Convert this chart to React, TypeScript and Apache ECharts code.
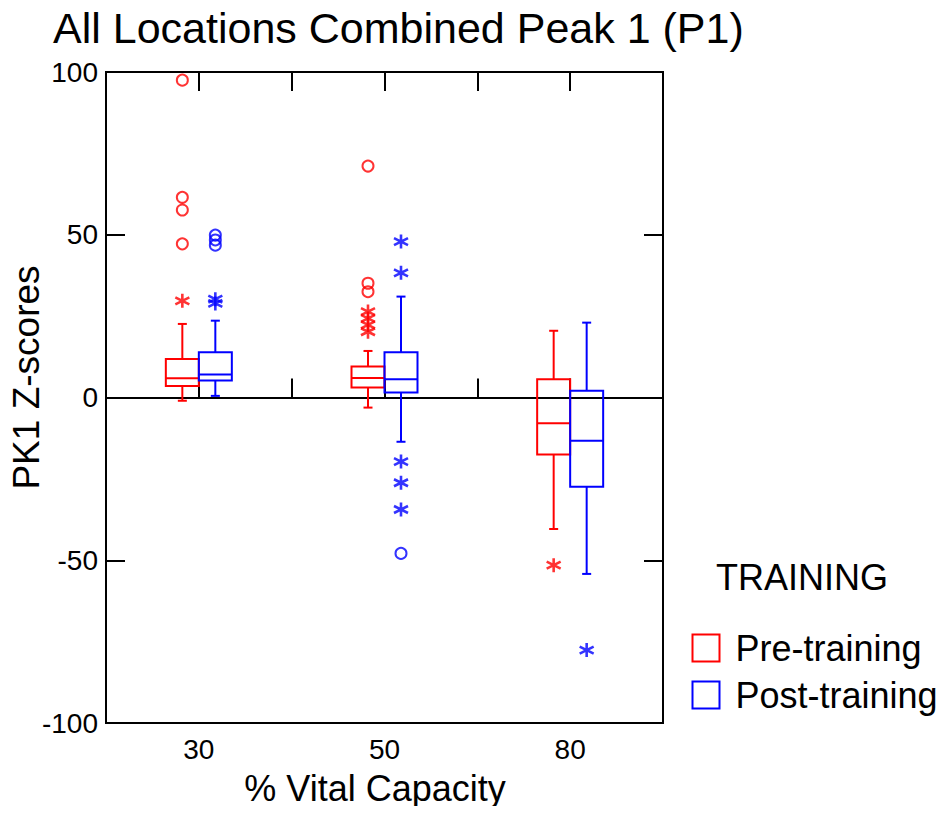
import React, { useEffect, useRef } from "react";
import * as echarts from "echarts";

const FONT = "'Liberation Sans', Arial, Helvetica, sans-serif";

const categories = ["30", "50", "80"];
const yTicks = [-100, -50, 0, 50, 100];

// [lower whisker, Q1, median, Q3, upper whisker]
const preBoxes = [
  [-1.0, 3.5, 5.9, 11.8, 22.6],
  [-3.1, 3.1, 6.0, 9.5, 14.3],
  [-40.4, -17.5, -7.9, 5.6, 20.5],
];
const postBoxes = [
  [0.5, 5.2, 7.1, 13.9, 23.6],
  [-13.6, 1.5, 5.6, 13.9, 31.0],
  [-54.2, -27.4, -13.3, 2.1, 23.0],
];

// outliers: [category index, value]
const preCircles = [
  [0, 97.5], [0, 61.5], [0, 57.6], [0, 47.2],
  [1, 71.1], [1, 35.1], [1, 32.5],
];
const preStars = [
  [0, 29.7],
  [1, 26.4], [1, 24.3], [1, 22.3], [1, 20.2],
  [2, -51.5],
];
const postCircles = [
  [0, 49.9], [0, 48.4], [0, 46.8],
  [1, -47.9],
];
const postStars = [
  [0, 30.2], [0, 28.9],
  [1, 47.9], [1, 38.3], [1, -19.7], [1, -26.2], [1, -34.4],
  [2, -77.6],
];

const RED = "#ff0000";
const BLUE = "#0000ff";
const BOX_W = 33;
const OFFSET = 16.5;
const STAR = "path://M0,-10L0,10M-8.66,-5L8.66,5M-8.66,5L8.66,-5";

function boxSeries(name: string, boxes: number[][], color: string, offset: number, withZero: boolean) {
  const s: any = {
    name,
    type: "custom",
    xAxisIndex: 0,
    yAxisIndex: 0,
    data: boxes.map((b, i) => [i, ...b]),
    encode: { x: 0, y: [1, 2, 3, 4, 5] },
    itemStyle: { color },
    renderItem: (params: any, api: any) => {
      const idx = api.value(0);
      const cx = api.coord([idx, 0])[0] + offset;
      const yy = (k: number) => api.coord([idx, api.value(k)])[1];
      const lo = yy(1), q1 = yy(2), med = yy(3), q3 = yy(4), hi = yy(5);
      const h = BOX_W / 2;
      const cap = 4.5;
      const st = { stroke: color, lineWidth: 2, fill: "none" };
      return {
        type: "group",
        children: [
          { type: "rect", shape: { x: cx - h, y: q3, width: BOX_W, height: q1 - q3 }, style: st },
          { type: "line", shape: { x1: cx - h, y1: med, x2: cx + h, y2: med }, style: st },
          { type: "line", shape: { x1: cx, y1: q3, x2: cx, y2: hi }, style: st },
          { type: "line", shape: { x1: cx, y1: q1, x2: cx, y2: lo }, style: st },
          { type: "line", shape: { x1: cx - cap, y1: hi, x2: cx + cap, y2: hi }, style: st },
          { type: "line", shape: { x1: cx - cap, y1: lo, x2: cx + cap, y2: lo }, style: st },
        ],
      };
    },
    z: 3,
  };
  if (withZero) {
    s.markLine = {
      silent: true,
      symbol: ["none", "none"],
      label: { show: false },
      lineStyle: { color: "#000", width: 2, type: "solid" },
      data: [{ yAxis: 0 }],
      z: 2,
    };
  }
  return s;
}

function outlierSeries(name: string, data: number[][], color: string, offset: number, star: boolean) {
  return {
    name,
    type: "scatter",
    xAxisIndex: 0,
    yAxisIndex: 0,
    data,
    symbol: star ? STAR : "circle",
    symbolSize: star ? 14 : 11,
    symbolOffset: [offset, 0],
    itemStyle: { color: "none", borderColor: color, borderWidth: star ? 2.6 : 2 },
    z: 4,
  };
}

export default function App() {
  const ref = useRef<HTMLDivElement>(null);
  useEffect(() => {
    if (!ref.current) return;
    const chart = echarts.init(ref.current, undefined, { renderer: "svg" });
    const tickStyle = { color: "#000", width: 2 };
    const option: any = {
      animation: false,
      backgroundColor: "#fff",
      textStyle: { fontFamily: FONT, color: "#000" },
      title: [
        {
          text: "All Locations Combined Peak 1 (P1)",
          left: 53,
          top: 6,
          padding: 0,
          textStyle: { fontFamily: FONT, fontSize: 43, fontWeight: "normal", color: "#000" },
        },
        {
          text: "TRAINING",
          left: 716,
          top: 559,
          padding: 0,
          textStyle: { fontFamily: FONT, fontSize: 36, fontWeight: "normal", color: "#000" },
        },
      ],
      legend: {
        orient: "vertical",
        left: 690,
        top: 630,
        padding: 0,
        itemWidth: 27,
        itemHeight: 27,
        itemGap: 11,
        selectedMode: false,
        textStyle: { fontFamily: FONT, fontSize: 36, color: "#000", lineHeight: 27, padding: [0, 0, 0, 11] },
        data: [
          { name: "Pre-training", icon: "rect", itemStyle: { color: "none", borderColor: RED, borderWidth: 2 } },
          { name: "Post-training", icon: "rect", itemStyle: { color: "none", borderColor: BLUE, borderWidth: 2 } },
        ],
      },
      grid: {
        left: 106,
        right: 283,
        top: 72,
        bottom: 91,
        containLabel: false,
        outerBoundsMode: "none",
        show: true,
        borderColor: "#000",
        borderWidth: 2,
        backgroundColor: "transparent",
      },
      xAxis: [
        {
          type: "category",
          data: categories,
          position: "bottom",
          name: "% Vital Capacity",
          nameLocation: "middle",
          nameGap: 47,
          nameTextStyle: { fontFamily: FONT, fontSize: 36, color: "#000", padding: [0, 19, 0, 0] },
          axisLine: { show: true, lineStyle: tickStyle },
          axisTick: { show: true, inside: true, length: 19, alignWithLabel: true, lineStyle: tickStyle },
          axisLabel: { show: true, fontFamily: FONT, fontSize: 28, color: "#000", margin: 12 },
          splitLine: { show: false },
        },
        {
          type: "category",
          data: categories,
          position: "bottom",
          axisLine: { show: false },
          axisTick: { show: true, inside: true, length: 19, lineStyle: tickStyle },
          axisLabel: { show: false },
          splitLine: { show: false },
        },
        {
          type: "category",
          data: categories,
          position: "top",
          axisLine: { show: true, lineStyle: tickStyle },
          axisTick: { show: true, inside: true, length: 19, alignWithLabel: true, lineStyle: tickStyle },
          axisLabel: { show: false },
          splitLine: { show: false },
        },
        {
          type: "category",
          data: categories,
          position: "top",
          axisLine: { show: false },
          axisTick: { show: true, inside: true, length: 19, lineStyle: tickStyle },
          axisLabel: { show: false },
          splitLine: { show: false },
        },
      ],
      yAxis: [
        {
          type: "value",
          position: "left",
          min: yTicks[0],
          max: yTicks[yTicks.length - 1],
          interval: 50,
          name: "PK1 Z-scores",
          nameLocation: "middle",
          nameRotate: 90,
          nameGap: 61,
          nameMoveOverlap: false,
          nameTextStyle: { fontFamily: FONT, fontSize: 37, color: "#000", padding: [0, 0, 0, 40] },
          axisLine: { show: true, lineStyle: tickStyle },
          axisTick: { show: true, inside: true, length: 19, lineStyle: tickStyle },
          axisLabel: { show: true, fontFamily: FONT, fontSize: 28, color: "#000", margin: 8 },
          splitLine: { show: false },
        },
        {
          type: "value",
          position: "right",
          min: yTicks[0],
          max: yTicks[yTicks.length - 1],
          interval: 50,
          axisLine: { show: true, lineStyle: tickStyle },
          axisTick: { show: true, inside: true, length: 19, lineStyle: tickStyle },
          axisLabel: { show: false },
          splitLine: { show: false },
        },
      ],
      series: [
        boxSeries("Pre-training", preBoxes, RED, -OFFSET, true),
        boxSeries("Post-training", postBoxes, BLUE, OFFSET, false),
        outlierSeries("Pre-training", preCircles, RED, -OFFSET, false),
        outlierSeries("Pre-training", preStars, RED, -OFFSET, true),
        outlierSeries("Post-training", postCircles, BLUE, OFFSET, false),
        outlierSeries("Post-training", postStars, BLUE, OFFSET, true),
      ],
    };
    chart.setOption(option);
    return () => chart.dispose();
  }, []);
  return <div ref={ref} style={{ width: 946, height: 814, margin: -8 }} />;
}
